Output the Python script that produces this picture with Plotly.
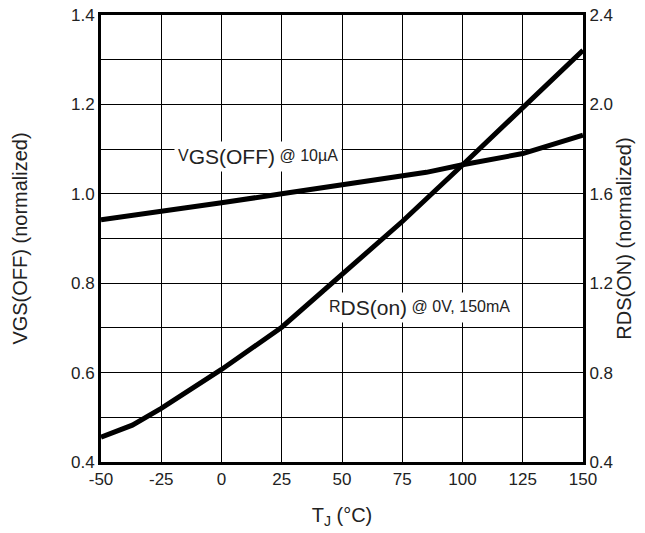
import plotly.graph_objects as go

# Data
temps_vgs = [-50, -25, 0, 25, 50, 75, 85, 100, 125, 150]
vgs_off = [0.942, 0.960, 0.980, 1.000, 1.020, 1.038, 1.048, 1.065, 1.090, 1.131]

temps_rds = [-50, -37, -25, -12, 0, 25, 50, 75, 100, 125, 150]
rds_on = [0.511, 0.565, 0.640, 0.729, 0.814, 1.003, 1.238, 1.476, 1.729, 1.989, 2.242]

x_ticks = [-50, -25, 0, 25, 50, 75, 100, 125, 150]
x_labels = ["-50", "-25", "0", "25", "50", "75", "100", "125", "150"]
left_ticks = [0.4, 0.6, 0.8, 1.0, 1.2, 1.4]
left_labels = ["0.4", "0.6", "0.8", "1.0", "1.2", "1.4"]
right_ticks = [0.4, 0.8, 1.2, 1.6, 2.0, 2.4]
right_labels = ["0.4", "0.8", "1.2", "1.6", "2.0", "2.4"]

FONT = "Liberation Sans, Arial, sans-serif"
TXT = "#222222"

fig = go.Figure()
fig.add_trace(go.Scatter(x=temps_vgs, y=vgs_off, mode="lines",
                         line=dict(color="black", width=5), yaxis="y",
                         showlegend=False, hoverinfo="skip"))
fig.add_trace(go.Scatter(x=temps_rds, y=rds_on, mode="lines",
                         line=dict(color="black", width=5), yaxis="y2",
                         showlegend=False, hoverinfo="skip"))

fig.add_annotation(x=15, y=1.083, xref="x", yref="y",
                   text="<span style='font-size:16px'>V</span><sub><span style='font-size:21px'>GS(OFF)</span></sub> <span style='font-size:16px'>@ 10µA</span>",
                   showarrow=False, bgcolor="white", borderpad=3,
                   font=dict(family=FONT, size=16, color=TXT))
fig.add_annotation(x=82, y=0.745, xref="x", yref="y",
                   text="<span style='font-size:16px'>R</span><sub><span style='font-size:21px'>DS(on)</span></sub> <span style='font-size:16px'>@ 0V, 150mA</span>",
                   showarrow=False, bgcolor="white", borderpad=3,
                   font=dict(family=FONT, size=16, color=TXT))

fig.update_layout(
    width=645, height=533,
    margin=dict(l=101, r=62, t=15, b=71, autoexpand=False),
    paper_bgcolor="white", plot_bgcolor="white",
    font=dict(family=FONT, size=17, color=TXT),
    xaxis=dict(range=[-50, 150], tickvals=x_ticks, ticktext=x_labels, showgrid=True,
               gridcolor="black", gridwidth=1.3, zeroline=False,
               showline=True, linecolor="black", linewidth=3, mirror=True,
               ticks="", tickfont=dict(size=17, color=TXT), automargin=False,
               title=dict(text="T<sub>J</sub> (°C)", font=dict(size=20, color=TXT), standoff=20)),
    yaxis=dict(range=[0.4, 1.4], tickvals=left_ticks, ticktext=left_labels,
               showgrid=True, gridcolor="black", gridwidth=1.3, zeroline=False,
               minor=dict(dtick=0.1, tick0=0.4, showgrid=True, gridcolor="black", gridwidth=1.3),
               showline=True, linecolor="black", linewidth=3,
               ticks="", tickfont=dict(size=17, color=TXT), automargin=False,
               title=dict(text="VGS(OFF) (normalized)", font=dict(size=20, color=TXT), standoff=38)),
    yaxis2=dict(range=[0.4, 2.4], tickvals=right_ticks, ticktext=right_labels,
                overlaying="y", side="right", showgrid=False, zeroline=False,
                showline=True, linecolor="black", linewidth=3,
                ticks="", tickfont=dict(size=17, color=TXT), automargin=False,
                title=dict(text="RDS(ON) (normalized)", font=dict(size=20, color=TXT), standoff=0)),
)

fig.write_html("out.html", config={"displayModeBar": False},
               post_script="document.body.style.margin='0';")
